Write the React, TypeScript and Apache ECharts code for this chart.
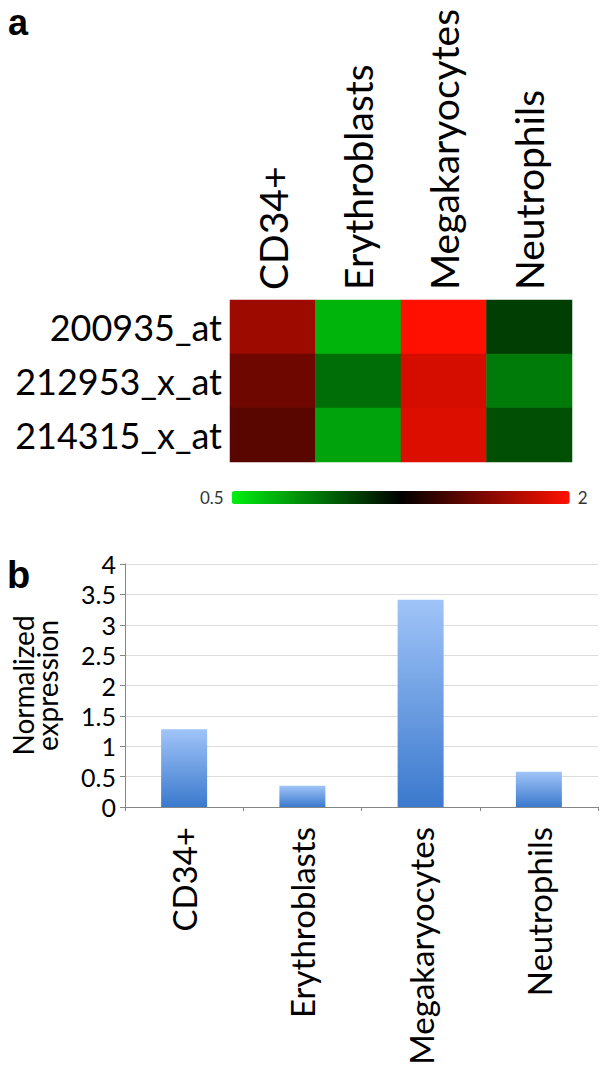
import React, { useEffect, useRef } from "react";
import * as echarts from "echarts";

// ---- data ----
const cellTypes = ["CD34+", "Erythroblasts", "Megakaryocytes", "Neutrophils"];
const probes = ["200935_at", "212953_x_at", "214315_x_at"];
// log2 ratios per probe (columns follow cellTypes)
const log2Ratio200935 = [0.61, -0.75, 1.0, -0.26];
const log2Ratio212953 = [0.43, -0.46, 0.83, -0.51];
const log2Ratio214315 = [0.35, -0.68, 0.86, -0.33];
const colorScaleLabels = ["2", "0.5"]; // high end, low end (fold change)
const normalizedExpression = [1.28, 0.35, 3.41, 0.58];
const yMin = 0;
const yMax = 4;
const yInterval = 0.5;

const FONT = "Lato";

export default function App() {
  const ref = useRef<HTMLDivElement>(null);
  useEffect(() => {
    if (!ref.current) return;
    const chart = echarts.init(ref.current, null, { renderer: "svg" });
    const rows = [log2Ratio200935, log2Ratio212953, log2Ratio214315];
    const heatData: number[][] = [];
    rows.forEach((r, yi) => r.forEach((v, xi) => heatData.push([xi, yi, v])));

    const option = {
      animation: false,
      backgroundColor: "#ffffff",
      textStyle: { fontFamily: FONT },
      graphic: [
        {
          type: "text",
          left: 8,
          top: 4,
          style: { text: "a", font: "bold 36px 'Liberation Sans'", fill: "#000" },
        },
        {
          type: "text",
          left: 7,
          top: 556,
          style: { text: "b", font: "bold 38px 'Liberation Sans'", fill: "#000" },
        },
      ],
      grid: [
        { left: 230, top: 300, width: 342, height: 162 },
        { left: 125, top: 564, width: 473, height: 243 },
      ],
      xAxis: [
        {
          gridIndex: 0,
          type: "category",
          position: "top",
          data: cellTypes,
          axisLine: { show: false },
          axisTick: { show: false },
          splitLine: { show: false },
          axisLabel: {
            rotate: -90,
            interval: 0,
            margin: 10,
            fontSize: 39,
            color: "#000",
            fontFamily: FONT,
          },
        },
        {
          gridIndex: 1,
          type: "category",
          data: cellTypes,
          axisLine: { show: true, lineStyle: { color: "#868686", width: 1 } },
          axisTick: { show: true, length: 4, lineStyle: { color: "#868686" } },
          axisLabel: {
            rotate: 90,
            interval: 0,
            margin: 20,
            fontSize: 33,
            color: "#000",
            fontFamily: FONT,
          },
        },
      ],
      yAxis: [
        {
          gridIndex: 0,
          type: "category",
          inverse: true,
          data: probes,
          axisLine: { show: false },
          axisTick: { show: false },
          splitLine: { show: false },
          axisLabel: { margin: 8, fontSize: 36, color: "#000", fontFamily: FONT },
        },
        {
          gridIndex: 1,
          type: "value",
          min: yMin,
          max: yMax,
          interval: yInterval,
          name: "Normalized\nexpression",
          nameLocation: "middle",
          nameRotate: 90,
          nameGap: 66,
          nameTextStyle: { fontSize: 28, lineHeight: 24, color: "#000", fontFamily: FONT },
          axisLine: { show: true, lineStyle: { color: "#868686", width: 1 } },
          axisTick: { show: true, length: 5, lineStyle: { color: "#868686" } },
          splitLine: { show: true, lineStyle: { color: "#dcdcdc", width: 1 } },
          axisLabel: { margin: 9, fontSize: 25, color: "#000", fontFamily: FONT },
        },
      ],
      visualMap: {
        type: "continuous",
        seriesIndex: 0,
        min: -1,
        max: 1,
        orient: "horizontal",
        left: 185,
        top: 474,
        itemWidth: 13,
        itemHeight: 338,
        calculable: false,
        hoverLink: false,
        text: colorScaleLabels,
        textGap: 8,
        textStyle: { fontSize: 17, color: "#333", fontFamily: FONT },
        inRange: { color: ["#00f010", "#000000", "#ff1000"] },
      },
      series: [
        {
          type: "heatmap",
          xAxisIndex: 0,
          yAxisIndex: 0,
          data: heatData,
          itemStyle: { borderWidth: 0 },
          emphasis: { disabled: true },
        },
        {
          type: "bar",
          xAxisIndex: 1,
          yAxisIndex: 1,
          data: normalizedExpression,
          barWidth: 46,
          itemStyle: {
            color: new echarts.graphic.LinearGradient(0, 0, 0, 1, [
              { offset: 0, color: "#a0c4f8" },
              { offset: 1, color: "#3b79cd" },
            ]),
          },
        },
      ],
    };
    chart.setOption(option as any);
    return () => chart.dispose();
  }, []);
  return (
    <div
      ref={ref}
      style={{ position: "absolute", left: 0, top: 0, width: 605, height: 1075 }}
    />
  );
}
